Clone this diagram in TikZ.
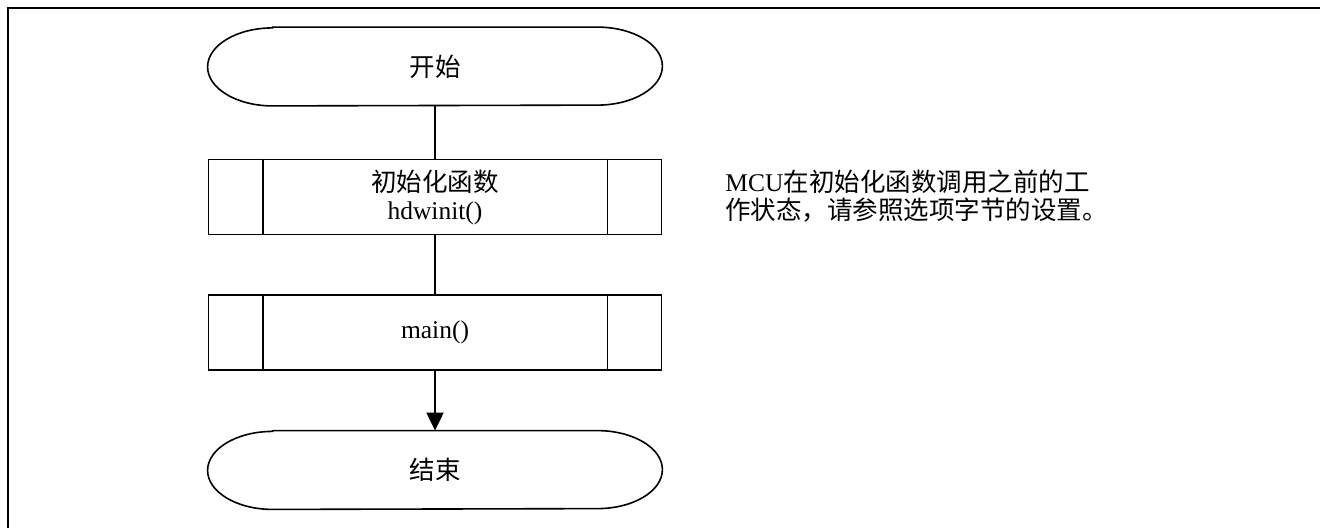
\documentclass[tikz,border=0pt]{standalone}
\usepackage{fontspec}
\setmainfont{Liberation Serif}
\newfontfamily\cjk{Noto Sans CJK SC}
\usetikzlibrary{arrows.meta}
\tikzset{
  txt/.style={font=\fontsize{12.75pt}{15pt}\selectfont, align=center},
  term/.style={txt, draw=none, minimum width=227pt, minimum height=39pt, inner sep=0pt},
  subbox/.style={txt, draw, line width=0.8pt, minimum width=226.5pt, minimum height=37.5pt, inner sep=0pt},
  conn/.style={line width=1pt},
  outline/.style={line width=0.8pt},
  frameline/.style={line width=1.1pt}
}
\begin{document}
\begin{tikzpicture}[x=0.5pt,y=-0.5pt]
\useasboundingbox (0,0) rectangle (1320,527);
\begin{scope}
\clip (0,0) rectangle (1320,527);
\draw[frameline] (8,560) -- (8,8) -- (1340,8);
\end{scope}

\node[term] (start) at (435,66.5) {\cjk 开始};
\node[subbox] (b1) at (435,197) {\cjk 初始化函数\\[-1pt] hdwinit()};
\node[subbox] (b2) at (435,332.5) {main()};
\node[term] (end) at (435,470) {\cjk 结束};

\foreach \n in {start,end}{
  \draw[outline] ([xshift=32.5pt]\n.north west) -- ([xshift=-32.5pt]\n.north east)
    arc[start angle=90, end angle=-90, x radius=32.5pt, y radius=19.5pt]
    -- ([xshift=32.5pt]\n.south west)
    arc[start angle=270, end angle=90, x radius=32.5pt, y radius=19.5pt] -- cycle;
}
\foreach \n in {b1,b2}{
  \draw[outline] ([xshift=27.5pt]\n.north west) -- ([xshift=27.5pt]\n.south west);
  \draw[outline] ([xshift=-27.5pt]\n.north east) -- ([xshift=-27.5pt]\n.south east);
}

\draw[conn] (start.south) -- (b1.north);
\draw[conn] (b1.south) -- (b2.north);
\draw[conn, -{Triangle[width=8.5pt, length=9pt]}] (b2.south) -- (end.north);

\node[font=\fontsize{12.75pt}{14.25pt}\selectfont, align=left, anchor=west, inner sep=0pt] (note) at (725,196)
  {MCU{\cjk 在初始化函数调用之前的工}\\{\cjk 作状态，请参照选项字节的设置。}};
\end{tikzpicture}
\end{document}
